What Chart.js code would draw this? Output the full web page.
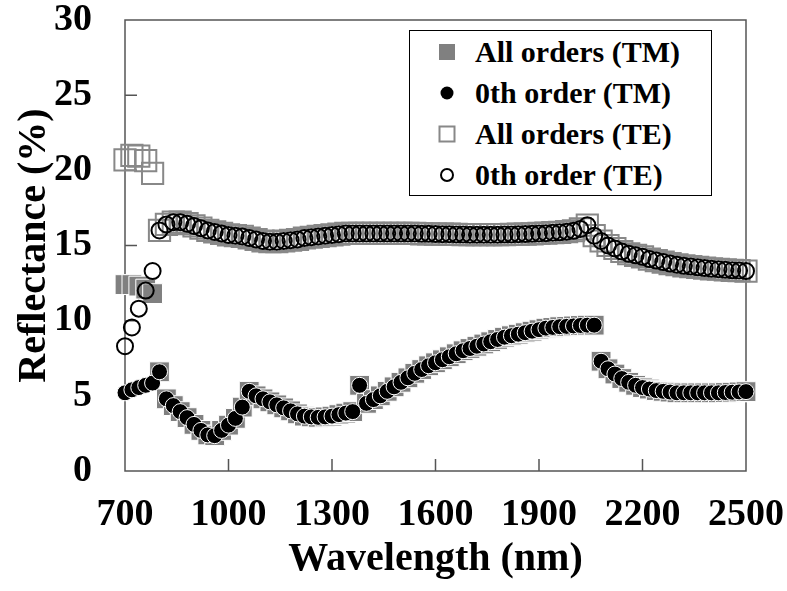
<!DOCTYPE html>
<html>
<head>
<meta charset="utf-8">
<title>Reflectance vs wavelength</title>
<script src="https://cdn.jsdelivr.net/npm/chart.js@4.4.0/dist/chart.umd.min.js"></script>
<style>
  body { margin: 0; background: #fff; }
  #wrap { position: relative; width: 787px; height: 591px; }
  #legend {
    position: absolute; left: 409px; top: 30px; width: 301px; height: 164px;
    border: 1px solid #000; background: #fff;
    font: bold 30px 'Liberation Serif', 'Times New Roman', serif; color: #000;
  }
  .row { position: absolute; left: 0; height: 40px; line-height: 40px; white-space: nowrap; }
  .mark { position: absolute; left: 37px; top: 20px; transform: translate(-50%, -50%); box-sizing: border-box; }
  .txt { position: absolute; left: 65px; top: 0; }
</style>
</head>
<body>
<div id="wrap">
  <canvas id="my-chart"></canvas>
  <div id="legend"></div>
</div>
<script>
//Chart data
var wavelength = [
  700, 720, 740, 760, 780, 800, 820, 840, 860, 880,
  900, 920, 940, 960, 980, 1000, 1020, 1040, 1060, 1080,
  1100, 1120, 1140, 1160, 1180, 1200, 1220, 1240, 1260, 1280,
  1300, 1320, 1340, 1360, 1380, 1400, 1420, 1440, 1460, 1480,
  1500, 1520, 1540, 1560, 1580, 1600, 1620, 1640, 1660, 1680,
  1700, 1720, 1740, 1760, 1780, 1800, 1820, 1840, 1860, 1880,
  1900, 1920, 1940, 1960, 1980, 2000, 2020, 2040, 2060, 2080,
  2100, 2120, 2140, 2160, 2180, 2200, 2220, 2240, 2260, 2280,
  2300, 2320, 2340, 2360, 2380, 2400, 2420, 2440, 2460, 2480,
  2500
];

var allOrdersTM = [
  12.4, 12.4, 12.3, 12.1, 11.8, 6.6, 4.8, 4.35, 3.95, 3.55,
  3.1, 2.7, 2.4, 2.35, 2.7, 3.05, 3.5, 4.25, 5.3, 5.0,
  4.8, 4.6, 4.4, 4.2, 4.0, 3.8, 3.65, 3.6, 3.57, 3.6,
  3.65, 3.75, 3.85, 3.95, 5.7, 4.5, 4.75, 5.0, 5.3, 5.6,
  5.9, 6.2, 6.5, 6.75, 7.0, 7.2, 7.4, 7.6, 7.8, 8.0,
  8.15, 8.3, 8.45, 8.6, 8.75, 8.9, 9.0, 9.1, 9.2, 9.3,
  9.4, 9.5, 9.55, 9.6, 9.62, 9.65, 9.68, 9.7, 9.7, 7.3,
  6.8, 6.45, 6.15, 5.9, 5.7, 5.55, 5.45, 5.35, 5.3, 5.25,
  5.2, 5.2, 5.2, 5.2, 5.2, 5.2, 5.2, 5.22, 5.24, 5.26,
  5.28
];

var zeroOrderTM = [
  5.2, 5.4, 5.55, 5.7, 5.85, 6.6, 4.8, 4.35, 3.95, 3.55,
  3.1, 2.7, 2.4, 2.35, 2.7, 3.05, 3.5, 4.25, 5.3, 5.0,
  4.8, 4.6, 4.4, 4.2, 4.0, 3.8, 3.65, 3.6, 3.57, 3.6,
  3.65, 3.75, 3.85, 3.95, 5.7, 4.5, 4.75, 5.0, 5.3, 5.6,
  5.9, 6.2, 6.5, 6.75, 7.0, 7.2, 7.4, 7.6, 7.8, 8.0,
  8.15, 8.3, 8.45, 8.6, 8.75, 8.9, 9.0, 9.1, 9.2, 9.3,
  9.4, 9.5, 9.55, 9.6, 9.62, 9.65, 9.68, 9.7, 9.7, 7.3,
  6.8, 6.45, 6.15, 5.9, 5.7, 5.55, 5.45, 5.35, 5.3, 5.25,
  5.2, 5.2, 5.2, 5.2, 5.2, 5.2, 5.2, 5.22, 5.24, 5.26,
  5.28
];

var allOrdersTE = [
  20.7, 21.0, 20.95, 20.65, 19.8, 16.0, 16.4, 16.55, 16.55, 16.45,
  16.3, 16.15, 16.0, 15.9, 15.8, 15.7, 15.65, 15.6, 15.5, 15.4,
  15.3, 15.25, 15.25, 15.3, 15.35, 15.4, 15.5, 15.55, 15.6, 15.65,
  15.7, 15.75, 15.8, 15.8, 15.8, 15.8, 15.8, 15.8, 15.8, 15.8,
  15.8, 15.8, 15.8, 15.78, 15.78, 15.76, 15.75, 15.75, 15.74, 15.73,
  15.72, 15.72, 15.72, 15.72, 15.72, 15.73, 15.74, 15.75, 15.76, 15.78,
  15.8, 15.82, 15.85, 15.88, 15.92, 15.98, 16.1, 16.35, 15.65, 15.3,
  15.0, 14.8, 14.6, 14.45, 14.35, 14.25, 14.1, 14.0, 13.9, 13.8,
  13.72, 13.65, 13.6, 13.55, 13.5, 13.45, 13.42, 13.38, 13.35, 13.33,
  13.3
];

var zeroOrderTE = [
  8.3, 9.55, 10.8, 12.0, 13.3, 16.0, 16.4, 16.55, 16.55, 16.45,
  16.3, 16.15, 16.0, 15.9, 15.8, 15.7, 15.65, 15.6, 15.5, 15.4,
  15.3, 15.25, 15.25, 15.3, 15.35, 15.4, 15.5, 15.55, 15.6, 15.65,
  15.7, 15.75, 15.8, 15.8, 15.8, 15.8, 15.8, 15.8, 15.8, 15.8,
  15.8, 15.8, 15.8, 15.78, 15.78, 15.76, 15.75, 15.75, 15.74, 15.73,
  15.72, 15.72, 15.72, 15.72, 15.72, 15.73, 15.74, 15.75, 15.76, 15.78,
  15.8, 15.82, 15.85, 15.88, 15.92, 15.98, 16.1, 16.35, 15.65, 15.3,
  15.0, 14.8, 14.6, 14.45, 14.35, 14.25, 14.1, 14.0, 13.9, 13.8,
  13.72, 13.65, 13.6, 13.55, 13.5, 13.45, 13.42, 13.38, 13.35, 13.33,
  13.3
];

var seriesNames = ['All orders (TM)', '0th order (TM)', 'All orders (TE)', '0th order (TE)'];
var xTickValues = [700, 1000, 1300, 1600, 1900, 2200, 2500];
var yTickValues = [0, 5, 10, 15, 20, 25, 30];

var serif = "'Liberation Serif', 'Times New Roman', serif";

//Turn a value list into scatter points
function toPoints(values) {
  var pts = [];
  for (var i = 0; i < wavelength.length; i++) {
    pts.push({ x: wavelength[i], y: values[i] });
  }
  return pts;
}

//Frame round the plot and the inward tick marks
var framePlugin = {
  id: 'frame',
  beforeDatasetsDraw: function (chart) {
    var ctx = chart.ctx;
    var a = chart.chartArea;
    var xs = chart.scales.x;
    var ys = chart.scales.y;
    ctx.save();
    ctx.strokeStyle = '#555';
    ctx.lineWidth = 1.5;
    ctx.strokeRect(a.left, a.top, a.right - a.left, a.bottom - a.top);
    ctx.beginPath();
    for (var i = 1; i < xTickValues.length - 1; i++) {
      var px = xs.getPixelForValue(xTickValues[i]);
      ctx.moveTo(px, a.bottom);
      ctx.lineTo(px, a.bottom - 12);
    }
    for (var j = 1; j < yTickValues.length - 1; j++) {
      var py = ys.getPixelForValue(yTickValues[j]);
      ctx.moveTo(a.left, py);
      ctx.lineTo(a.left + 12, py);
    }
    ctx.stroke();
    ctx.restore();
  }
};

var myChart = document.getElementById('my-chart').getContext('2d');

var chart = new Chart(myChart, {
  type: 'scatter',
  data: {
    datasets: [
      {
        label: seriesNames[0],
        data: toPoints(allOrdersTM),
        pointStyle: 'rect',
        pointRadius: 14,
        backgroundColor: '#808080',
        borderColor: '#fff',
        borderWidth: 1,
        clip: false,
        order: 4
      },
      {
        label: seriesNames[1],
        data: toPoints(zeroOrderTM),
        pointStyle: 'circle',
        pointRadius: 8,
        backgroundColor: '#000',
        borderColor: '#fff',
        borderWidth: 1,
        clip: false,
        order: 3
      },
      {
        label: seriesNames[2],
        data: toPoints(allOrdersTE),
        pointStyle: 'rect',
        pointRadius: 15,
        backgroundColor: 'rgba(0,0,0,0)',
        borderColor: '#888',
        borderWidth: 2,
        clip: false,
        order: 2
      },
      {
        label: seriesNames[3],
        data: toPoints(zeroOrderTE),
        pointStyle: 'circle',
        pointRadius: 8,
        backgroundColor: 'rgba(0,0,0,0)',
        borderColor: '#000',
        borderWidth: 2,
        clip: false,
        order: 1
      }
    ]
  },
  options: {
    responsive: true,
    maintainAspectRatio: false,
    animation: false,
    layout: { padding: { top: 20, right: 41, bottom: 0, left: 0 } },
    plugins: {
      legend: { display: false },
      tooltip: { enabled: false }
    },
    scales: {
      x: {
        type: 'linear',
        position: 'bottom',
        min: 700,
        max: 2500,
        afterBuildTicks: function (scale) {
          scale.ticks = xTickValues.map(function (v) { return { value: v }; });
        },
        afterFit: function (scale) {
          scale.height = 120;
          scale.paddingLeft = 0;
          scale.paddingRight = 0;
        },
        grid: { display: false, drawTicks: false },
        border: { display: false },
        ticks: {
          autoSkip: false,
          maxRotation: 0,
          padding: 25,
          color: '#000',
          font: { family: serif, size: 38, weight: 'bold', lineHeight: 1 },
          callback: function (v) { return String(v); }
        },
        title: {
          display: true,
          text: 'Wavelength (nm)',
          color: '#000',
          font: { family: serif, size: 40, weight: 'bold', lineHeight: 1 },
          padding: { top: 0, bottom: 11 }
        }
      },
      y: {
        min: 0,
        max: 30,
        afterBuildTicks: function (scale) {
          scale.ticks = yTickValues.map(function (v) { return { value: v }; });
        },
        afterFit: function (scale) {
          scale.width = 125;
          scale.paddingTop = 0;
          scale.paddingBottom = 0;
        },
        grid: { display: false, drawTicks: false },
        border: { display: false },
        ticks: {
          padding: 33,
          color: '#000',
          font: { family: serif, size: 38, weight: 'bold', lineHeight: 1 },
          callback: function (v) { return String(v); }
        },
        title: {
          display: true,
          text: 'Reflectance (%)',
          color: '#000',
          font: { family: serif, size: 40, weight: 'bold', lineHeight: 1 },
          padding: { top: 15, bottom: 0 }
        }
      }
    }
  },
  plugins: [framePlugin]
});

//Legend box in the upper right, built from the dataset labels
var markStyles = [
  'width:16px;height:16px;background:#808080;',
  'width:13px;height:13px;border-radius:50%;background:#000;',
  'width:17px;height:17px;border:2px solid #888;',
  'width:14px;height:14px;border-radius:50%;border:2px solid #000;'
];
var rowCenters = [21, 62, 103, 144];
var legendEl = document.getElementById('legend');
chart.data.datasets.forEach(function (ds, i) {
  var row = document.createElement('div');
  row.className = 'row';
  row.style.top = (rowCenters[i] - 20) + 'px';
  row.innerHTML = '<span class="mark" style="' + markStyles[i] + '"></span><span class="txt">' + ds.label + '</span>';
  legendEl.appendChild(row);
});
</script>
</body>
</html>
